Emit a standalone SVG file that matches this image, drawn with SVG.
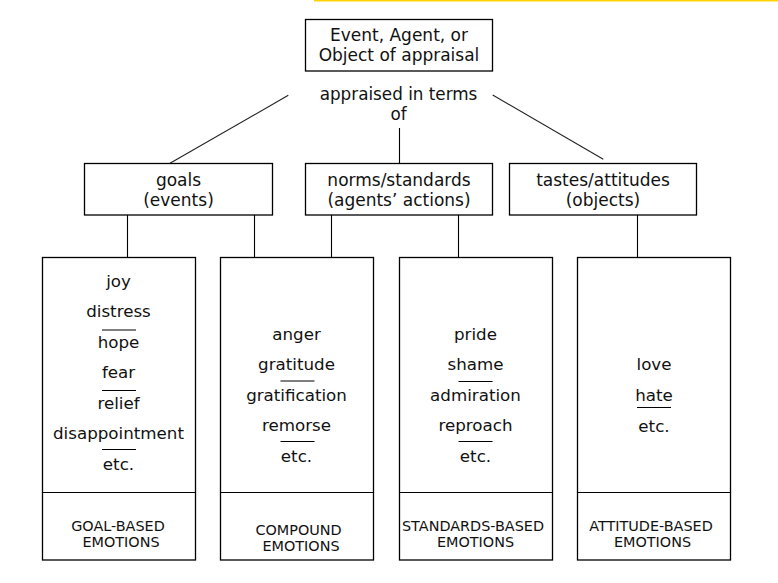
<svg xmlns="http://www.w3.org/2000/svg" width="778" height="583" viewBox="0 0 778 583">
<style>
  .box { fill: #ffffff; stroke: #000000; stroke-width: 1.3; }
  .conn { stroke: #000000; stroke-width: 1.1; fill: none; }
  .diag { stroke: #222222; stroke-width: 1.1; fill: none; }
  .sep { stroke: #000000; stroke-width: 1.1; }
  text { font-family: "DejaVu Sans", Verdana, sans-serif; fill: #111111; text-anchor: middle; }
  .hd { font-size: 17px; }
  .lb { font-size: 16.8px; }
  .li { font-size: 16.7px; }
  .cat { font-size: 14.4px; }
</style>
<rect width="778" height="583" fill="#ffffff"/>
<rect x="314" y="0" width="464" height="1.5" fill="#FFD200"/>

<g id="connectors">
  <line class="diag" x1="288.3" y1="95.3" x2="170" y2="163.3"/>
  <line class="diag" x1="492.7" y1="95" x2="603.3" y2="159.3"/>
  <line class="conn" x1="399.5" y1="128" x2="399.5" y2="163.5"/>
  <line class="conn" x1="127.5" y1="215" x2="127.5" y2="257.5"/>
  <line class="conn" x1="254.5" y1="215" x2="254.5" y2="257.5"/>
  <line class="conn" x1="331.5" y1="215" x2="331.5" y2="257.5"/>
  <line class="conn" x1="458.5" y1="215" x2="458.5" y2="257.5"/>
  <line class="conn" x1="637.5" y1="215" x2="637.5" y2="257.5"/>
</g>

<g id="appraisal">
  <rect class="box" x="305.5" y="19.5" width="187" height="51.5"/>
  <text class="hd" x="399" y="40.5">Event, Agent, or</text>
  <text class="hd" x="399" y="61">Object of appraisal</text>
</g>

<g id="label-appraised">
  <text class="lb" x="398.5" y="99.5">appraised in terms</text>
  <text class="lb" x="398.5" y="119.5">of</text>
</g>

<g id="goals">
  <rect class="box" x="84.5" y="163.5" width="188" height="51.5"/>
  <text class="hd" x="178.5" y="186">goals</text>
  <text class="hd" x="178.5" y="205.5">(events)</text>
</g>

<g id="norms">
  <rect class="box" x="305.5" y="163.5" width="187" height="51.5"/>
  <text class="hd" x="399" y="186">norms/standards</text>
  <text class="hd" x="399" y="205.5">(agents’ actions)</text>
</g>

<g id="tastes">
  <rect class="box" x="509.5" y="163.5" width="187" height="51.5"/>
  <text class="hd" x="603" y="186">tastes/attitudes</text>
  <text class="hd" x="603" y="205.5">(objects)</text>
</g>

<g id="goal-based">
  <rect class="box" x="42.5" y="257.5" width="153" height="302.5"/>
  <line class="sep" x1="42.5" y1="492.5" x2="195.5" y2="492.5" stroke-width="1.3"/>
  <text class="li" x="118.5" y="286.5">joy</text>
  <text class="li" x="118.5" y="317">distress</text>
  <line class="sep" x1="102" y1="330" x2="136" y2="330"/>
  <text class="li" x="118.5" y="347.5">hope</text>
  <text class="li" x="118.5" y="378">fear</text>
  <line class="sep" x1="102" y1="390.5" x2="136" y2="390.5"/>
  <text class="li" x="118.5" y="408.5">relief</text>
  <text class="li" x="118.5" y="439">disappointment</text>
  <line class="sep" x1="102" y1="449.5" x2="136" y2="449.5"/>
  <text class="li" x="118.5" y="470">etc.</text>
  <text class="cat" x="118" y="531">GOAL-BASED</text>
  <text class="cat" x="121" y="547.3">EMOTIONS</text>
</g>

<g id="compound">
  <rect class="box" x="220.5" y="257.5" width="153" height="302.5"/>
  <line class="sep" x1="220.5" y1="492.5" x2="373.5" y2="492.5" stroke-width="1.3"/>
  <text class="li" x="296.5" y="339.5">anger</text>
  <text class="li" x="296.5" y="370">gratitude</text>
  <line class="sep" x1="280.5" y1="381" x2="314.5" y2="381"/>
  <text class="li" x="296.5" y="400.7">gratification</text>
  <text class="li" x="296.5" y="431">remorse</text>
  <line class="sep" x1="280.5" y1="441.5" x2="314.5" y2="441.5"/>
  <text class="li" x="296.5" y="462">etc.</text>
  <text class="cat" x="298.5" y="535">COMPOUND</text>
  <text class="cat" x="301" y="551">EMOTIONS</text>
</g>

<g id="standards-based">
  <rect class="box" x="399.5" y="257.5" width="153" height="302.5"/>
  <line class="sep" x1="399.5" y1="492.5" x2="552.5" y2="492.5" stroke-width="1.3"/>
  <text class="li" x="475.5" y="339.5">pride</text>
  <text class="li" x="475.5" y="370">shame</text>
  <line class="sep" x1="458.5" y1="381.5" x2="492.5" y2="381.5"/>
  <text class="li" x="475.5" y="400.7">admiration</text>
  <text class="li" x="475.5" y="431">reproach</text>
  <line class="sep" x1="458.5" y1="441.5" x2="492.5" y2="441.5"/>
  <text class="li" x="475.5" y="462">etc.</text>
  <text class="cat" x="473" y="531">STANDARDS-BASED</text>
  <text class="cat" x="475.5" y="547.3">EMOTIONS</text>
</g>

<g id="attitude-based">
  <rect class="box" x="577.5" y="257.5" width="153" height="302.5"/>
  <line class="sep" x1="577.5" y1="492.5" x2="730.5" y2="492.5" stroke-width="1.3"/>
  <text class="li" x="654" y="370">love</text>
  <text class="li" x="654" y="400.7">hate</text>
  <line class="sep" x1="637" y1="407.5" x2="671" y2="407.5"/>
  <text class="li" x="654" y="431.7">etc.</text>
  <text class="cat" x="651" y="531">ATTITUDE-BASED</text>
  <text class="cat" x="652.5" y="547.3">EMOTIONS</text>
</g>
</svg>
